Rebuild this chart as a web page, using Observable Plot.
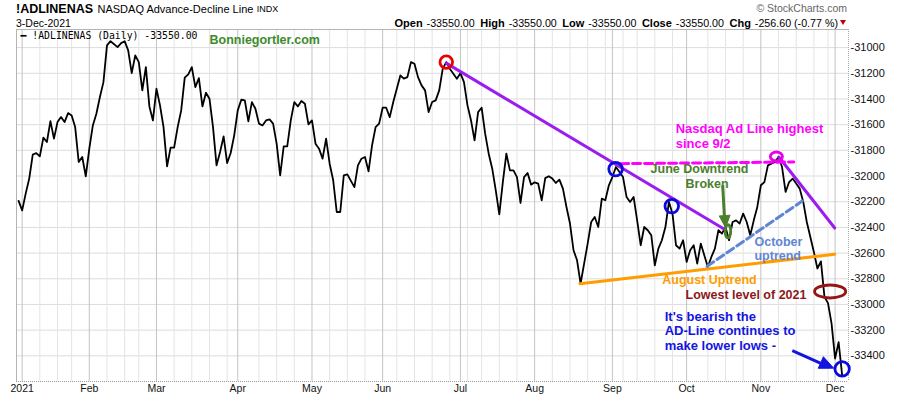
<!DOCTYPE html>
<html><head><meta charset="utf-8">
<script src="https://cdn.jsdelivr.net/npm/d3@7"></script>
<script src="https://cdn.jsdelivr.net/npm/@observablehq/plot@0.6"></script>
<style>
body{margin:0;background:#fff;font-family:"Liberation Sans",Arial,sans-serif;color:#000}
#wrap{position:relative;width:900px;height:396px;overflow:hidden;background:#fff}
#hdr{position:relative;width:900px;height:28px}
.t{position:absolute;white-space:nowrap;line-height:1}
#quote b{font-size:11px;margin-left:5.5px;margin-right:1px}
</style></head><body>
<div id="wrap">
<div id="hdr">
 <span class="t" style="left:16px;top:2.5px;font-size:12.5px;font-weight:bold">!ADLINENAS</span>
 <span class="t" style="left:97.5px;top:3.7px;font-size:11px">NASDAQ Advance-Decline Line</span>
 <span class="t" style="left:256.7px;top:5px;font-size:9px">INDX</span>
 <span class="t" style="left:16px;top:17.6px;font-size:10.5px">3-Dec-2021</span>
 <span class="t" style="right:53px;top:3px;font-size:10.5px;color:#666">© StockCharts.com</span>
 <span class="t" id="quote" style="right:62px;top:17.5px;font-size:10.7px"></span>
 <span style="position:absolute;left:840px;top:20px;width:0;height:0;border-left:3.5px solid transparent;border-right:3.5px solid transparent;border-top:5px solid #c00000"></span>
</div>
<div id="chart"></div>
</div>
<script>
// ---- data: trading-day index (0 = 4-Jan-2021) and A/D line value ----
const dayIdx = [-1,0,1,2,3,4,5,6,7,8,9,10,11,12,13,14,15,16,17,18,19,20,21,22,23,24,25,27,28,29,30,31,32,33,34,35,36,37,38,39,40,41,42,43,44,45,46,47,48,49,50,51,52,53,54,55,56,57,58,59,60,61,62,63,64,65,66,67,68,69,70,71,72,73,74,75,76,77,78,79,80,81,82,83,84,85,86,87,88,89,90,91,92,94,95,96,97,98,99,100,101,102,103,104,105,107,108,109,110,111,112,113,114,115,116,117,118,119,120,121,123,124,125,126,127,128,129,130,131,132,133,134,135,136,137,138,139,140,141,142,143,144,145,146,147,148,149,150,151,152,153,154,155,156,157,158,159,160,161,162,163,164,165,166,167,168,170,171,172,173,174,175,176,177,178,179,180,181,182,183,184,185,186,187,188,189,190,191,192,193,194,195,196,197,198,199,200,201,202,203,204,205,206,207,208,209,210,211,212,213,214,215,216,217,218,219,220,221,222,223,224,225,226,227,228,229,230,231,232];
const adValue = [-32194,-32267,-32137,-32020,-31833,-31821,-31847,-31701,-31735,-31572,-31709,-31580,-31541,-31580,-31510,-31528,-31619,-31891,-31852,-32002,-31787,-31606,-31515,-31385,-31269,-30983,-30950,-30996,-30965,-30950,-31022,-31199,-31061,-31113,-31333,-31152,-31458,-31567,-31320,-31450,-31619,-31925,-31779,-31779,-31619,-31489,-31234,-31209,-31152,-31308,-31238,-31458,-31351,-31398,-31619,-31917,-31813,-31691,-31899,-31821,-31683,-31489,-31406,-31411,-31574,-31424,-31476,-31592,-31606,-31567,-31559,-31592,-31748,-31995,-31769,-31769,-31567,-31424,-31458,-31416,-31437,-31598,-31567,-31748,-31787,-31865,-31709,-31904,-32033,-32280,-32280,-31995,-31987,-32086,-31917,-31865,-31852,-31963,-31761,-31619,-31592,-31468,-31468,-31541,-31424,-31217,-31242,-31230,-31113,-31126,-31230,-31294,-31333,-31502,-31424,-31411,-31333,-31164,-31113,-31164,-31242,-31199,-31269,-31450,-31567,-31722,-31502,-31468,-31670,-31826,-31943,-32111,-32298,-32047,-31826,-31956,-31956,-32008,-32210,-32008,-31977,-32067,-32049,-32059,-32189,-32016,-32002,-32020,-32054,-32028,-32098,-32241,-32370,-32578,-32656,-32837,-32682,-32526,-32358,-32319,-32397,-32176,-32189,-32072,-32008,-31930,-32008,-32163,-32202,-32163,-32345,-32539,-32397,-32422,-32461,-32695,-32565,-32500,-32397,-32202,-32293,-32539,-32565,-32500,-32669,-32578,-32539,-32682,-32526,-32617,-32708,-32630,-32565,-32422,-32448,-32397,-32500,-32358,-32345,-32370,-32293,-32358,-32461,-32345,-32241,-32072,-32047,-31917,-31904,-31891,-31852,-31930,-32124,-32047,-32020,-32059,-32098,-32202,-32358,-32475,-32591,-32720,-32665,-32941,-32990,-33148,-33421,-33293,-33550];

const monthIdx = [0,19,38,61,82,102,124,145,167,188,209,230];
const monthLabels = ["2021","Feb","Mar","Apr","May","Jun","Jul","Aug","Sep","Oct","Nov","Dec"];
const weekIdx = [5,10,14,24,29,33,43,48,53,58,67,72,77,87,92,97,106,111,116,121,126,130,135,140,150,155,160,165,170,174,179,184,194,199,204,214,219,224,228];
const yTicks = [-31000,-31200,-31400,-31600,-31800,-32000,-32200,-32400,-32600,-32800,-33000,-33200,-33400];

const quoteLabels = ["Open","High","Low","Close","Chg"];
const quoteValues = ["-33550.00","-33550.00","-33550.00","-33550.00","-256.60 (-0.77 %)"];

// ---- annotations (day index, value) ----
const trendLines = [
  {name:"June downtrend", pts:[[120.1,-31123],[198.7,-32415]], color:"#9a1cf0", dash:null},
  {name:"Nov downtrend",  pts:[[214.1,-31852],[229.9,-32405]], color:"#9a1cf0", dash:null},
  {name:"August uptrend", pts:[[157.8,-32838],[229.9,-32609]], color:"#ff9c00", dash:null},
  {name:"Highest since 9/2", pts:[[169.3,-31904],[218.3,-31891]], color:"#ff00ff", dash:"8,4"},
  {name:"October uptrend", pts:[[193.8,-32703],[220.7,-32195]], color:"#5e86d4", dash:"8,4"}
];
const rings = [
  {x:120.0, y:-31113, r:6.3, aspect:1,   color:"#e80000"},
  {x:167.9, y:-31946, r:6.8, aspect:1,   color:"#0a0ae0"},
  {x:183.8, y:-32234, r:6.8, aspect:1,   color:"#0a0ae0"},
  {x:232.0, y:-33502, r:7.2, aspect:1,   color:"#0a0ae0"},
  {x:213.4, y:-31848, r:4.5, aspect:1.35,color:"#e800e8"},
  {x:228.6, y:-32899, r:6.5, aspect:2.4, color:"#961414"},
  {x:199.7, y:-32430, r:6.5, aspect:0.42,color:"#4a7f2c"}
];
const arrows = [
  {x1:198.2, y1:-32072, x2:198.7, y2:-32321, tx:199.0, ty:-32401, angle:86, r:6, color:"#4a7f2c"},
  {x1:217.9, y1:-33360, x2:226.3, y2:-33462, tx:229.6, ty:-33496, angle:23.7, r:7, color:"#1414e0"}
];
const notes = [
  {text:"Bonniegortler.com", x:53.0, y:-30975, color:"#3d8b2b", size:12.5},
  {text:"Nasdaq Ad Line highest", x:184.9, y:-31668, color:"#ff00ff", size:13},
  {text:"since 9/2", x:184.9, y:-31781, color:"#ff00ff", size:13},
  {text:"June Downtrend", x:177.8, y:-31979, color:"#4a7f2c", size:12.5},
  {text:"Broken", x:187.7, y:-32092, color:"#4a7f2c", size:12.5},
  {text:"October", x:207.2, y:-32541, color:"#5e86d4", size:12.5},
  {text:"uptrend", x:207.2, y:-32654, color:"#5e86d4", size:12.5},
  {text:"August Uptrend", x:181.1, y:-32841, color:"#ff9c00", size:12.5},
  {text:"Lowest level of 2021", x:187.7, y:-32954, color:"#8c1919", size:12.5},
  {text:"It's bearish the", x:181.8, y:-33127, color:"#1414e0", size:13},
  {text:"AD-Line continues to", x:181.8, y:-33239, color:"#1414e0", size:13},
  {text:"make lower lows -", x:181.8, y:-33351, color:"#1414e0", size:13}
];

// ---- header quote ----
document.getElementById("quote").innerHTML =
  quoteLabels.map((l,i)=>`<b>${l}</b> ${quoteValues[i]}`).join("");

// ---- custom symbols ----
function ellipseSymbol(aspect){
  return {draw(ctx,size){
    const r=Math.sqrt(size/Math.PI), rx=r*aspect, ry=r, k=0.5523;
    ctx.moveTo(rx,0);
    ctx.bezierCurveTo(rx,ry*k,rx*k,ry,0,ry);
    ctx.bezierCurveTo(-rx*k,ry,-rx,ry*k,-rx,0);
    ctx.bezierCurveTo(-rx,-ry*k,-rx*k,-ry,0,-ry);
    ctx.bezierCurveTo(rx*k,-ry,rx,-ry*k,rx,0);
    ctx.closePath();
  }};
}
function headSymbol(angleDeg){
  const a=angleDeg*Math.PI/180, c=Math.cos(a), s=Math.sin(a);
  return {draw(ctx,size){
    const r=Math.sqrt(size/Math.PI), L=r*2, W=r*0.9;
    const bx=-L*c, by=-L*s;
    ctx.moveTo(0,0);
    ctx.lineTo(bx - W*s, by + W*c);
    ctx.lineTo(bx + W*s, by - W*c);
    ctx.closePath();
  }};
}

const series = dayIdx.map((d,i)=>({d, v:adValue[i]}));
const last = adValue[adValue.length-1];
const legendText = "━ !ADLINENAS (Daily) " + last.toFixed(2);
const yMin = -33600, yMax = -30859;

const marks = [
  Plot.ruleY(yTicks, {stroke:"#dcdcdc", strokeWidth:1}),
  Plot.ruleX(weekIdx, {stroke:"#e4e4e4", strokeWidth:1}),
  Plot.ruleX(monthIdx, {stroke:"#c3c3c3", strokeWidth:1}),
  Plot.ruleY([yMax], {stroke:"#b4b4b4"}),
  Plot.ruleY([yMin], {stroke:"#9a9a9a", strokeDasharray:"1,1"}),
  Plot.ruleX([-1.6], {stroke:"#b4b4b4"}),
  Plot.ruleX([233.8], {stroke:"#a8a8a8", strokeDasharray:"1,1"}),
  Plot.text(yTicks, {y:d=>d, text:d=>String(d), frameAnchor:"right", textAnchor:"start", dx:2, fontSize:11, fill:"#111"}),
  Plot.text(monthIdx, {x:d=>d, text:(d,i)=>monthLabels[i], frameAnchor:"bottom", lineAnchor:"bottom", dy:10, fontSize:10.5, fill:"#111", fontWeight:(d,i)=>i===0?"bold":"normal"}),
  Plot.line(series, {x:"d", y:"v", stroke:"#000", strokeWidth:1.8}),
  ...trendLines.map(t=>Plot.line(t.pts, {x:p=>p[0], y:p=>p[1], stroke:t.color, strokeWidth:3, strokeDasharray:t.dash ?? undefined})),
  ...rings.map(c=>Plot.dot([c], {x:"x", y:"y", r:"r", symbol:ellipseSymbol(c.aspect), fill:"none", stroke:c.color, strokeWidth:2.8})),
  ...arrows.map(a=>Plot.link([a], {x1:"x1", y1:"y1", x2:"x2", y2:"y2", stroke:a.color, strokeWidth:3})),
  ...arrows.map(a=>Plot.dot([a], {x:"tx", y:"ty", r:"r", symbol:headSymbol(a.angle), fill:a.color, stroke:a.color, strokeWidth:1})),
  ...notes.map(n=>Plot.text([n], {x:"x", y:"y", text:"text", fill:n.color, fontSize:n.size, fontWeight:"bold", textAnchor:"start", lineAnchor:"bottom"})),
  Plot.text([legendText], {text:d=>d, frameAnchor:"top-left", dx:4, dy:9.5, lineAnchor:"bottom", textAnchor:"start", fontFamily:"DejaVu Sans Mono", fontSize:9.8, fill:"#000"})
];

const chart = Plot.plot({
  width:900, height:368,
  marginLeft:16, marginRight:52, marginTop:1, marginBottom:15,
  x:{type:"linear", domain:[-1.6,233.8], axis:null},
  y:{type:"linear", domain:[yMin,yMax], axis:null},
  r:{type:"identity"},
  style:{fontFamily:"'Liberation Sans', Arial, sans-serif", background:"#fff", overflow:"visible"},
  marks
});
document.getElementById("chart").appendChild(chart);
</script>
</body></html>
